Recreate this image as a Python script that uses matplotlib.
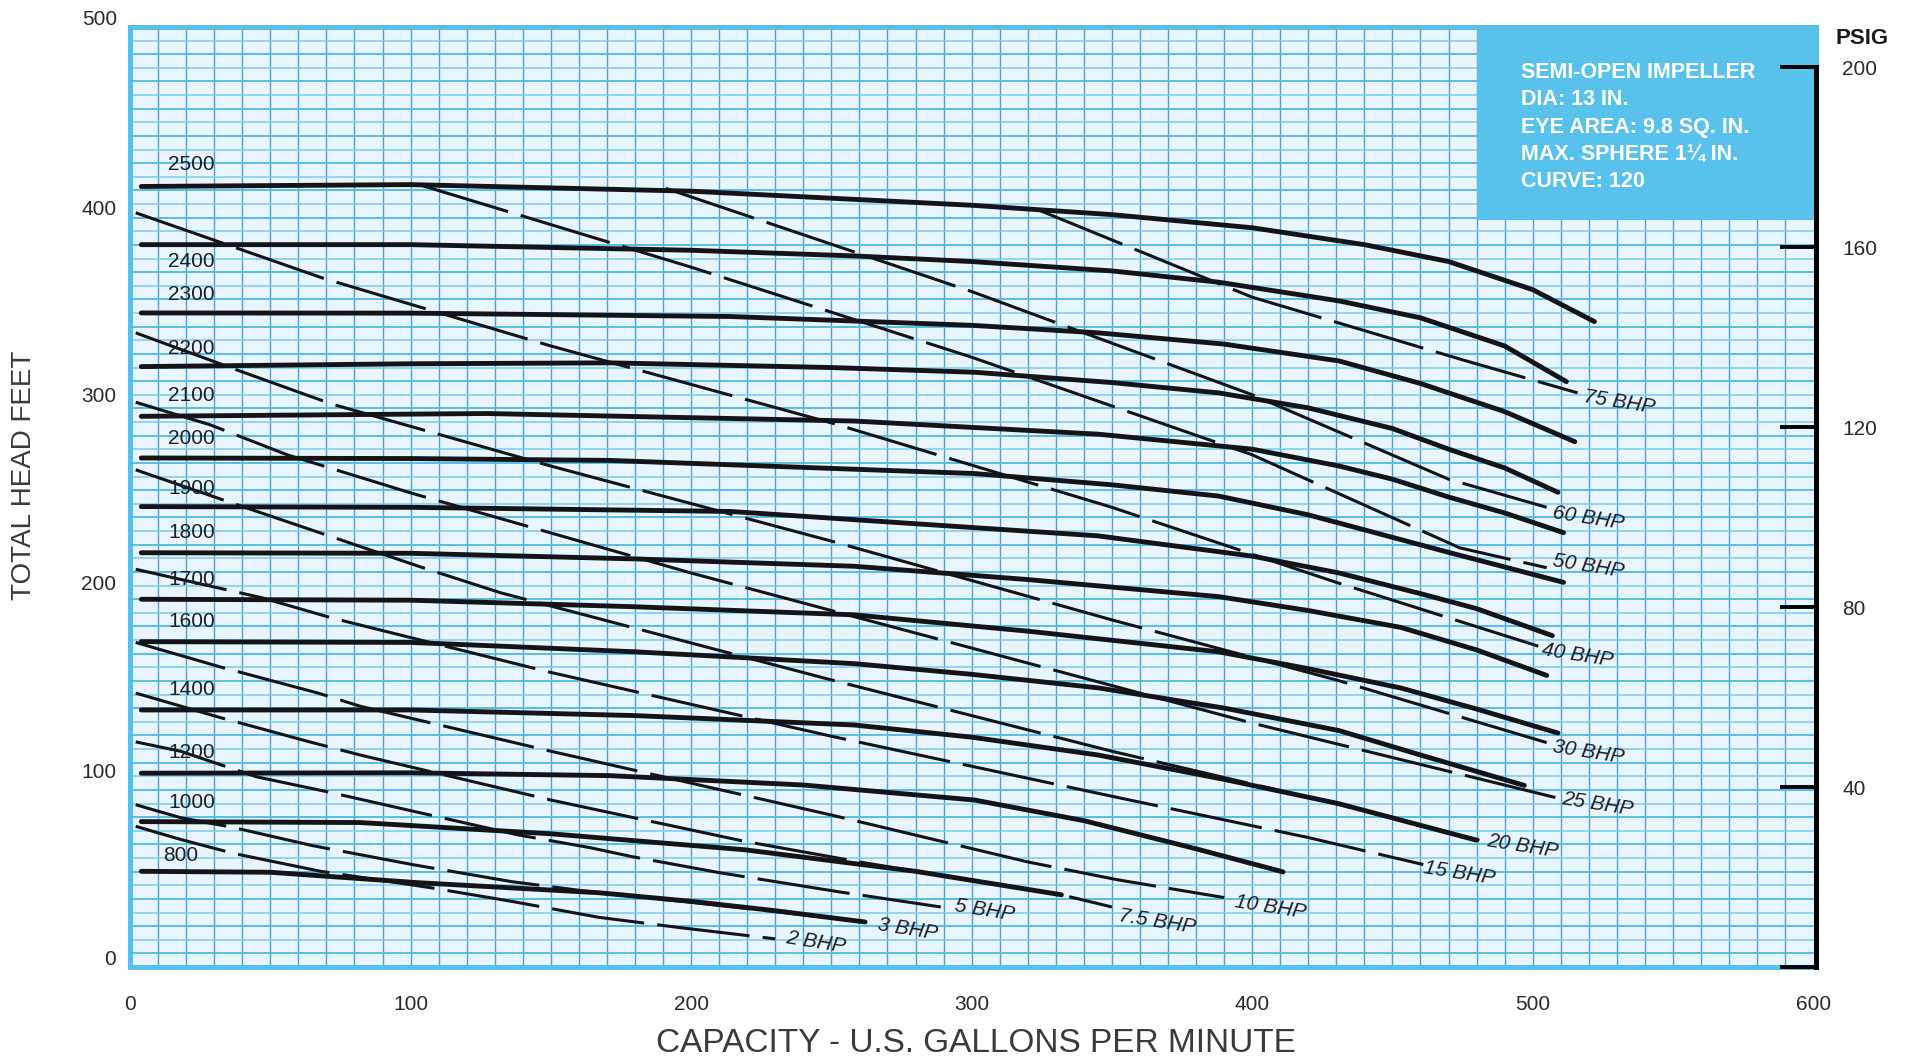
import numpy as np
import matplotlib.pyplot as plt
from matplotlib import font_manager
from matplotlib.patches import Rectangle
import matplotlib.transforms as mtransforms

# head-capacity curves, one per pump speed (rpm)
speeds = [2500, 2400, 2300, 2200, 2100, 2000, 1900, 1800, 1700, 1600, 1400, 1200, 1000, 800]
speed_q = [
    [4, 100, 200, 300, 350, 400, 440, 470, 500, 522],
    [4, 100, 200, 258, 300, 350, 388, 431, 460, 490, 512],
    [4, 100, 214, 300, 345, 390, 431, 460, 490, 515],
    [4, 100, 171, 250, 301, 350, 388, 420, 450, 470, 490, 509],
    [4, 127, 258, 345, 400, 431, 450, 470, 490, 511],
    [4, 100, 171, 301, 350, 388, 420, 450, 470, 511],
    [4, 100, 214, 345, 400, 431, 460, 480, 507],
    [4, 100, 180, 258, 320, 388, 420, 453, 480, 505],
    [4, 100, 180, 258, 320, 388, 420, 453, 480, 509],
    [4, 100, 180, 258, 300, 345, 390, 431, 460, 497],
    [4, 100, 180, 258, 300, 345, 390, 431, 455, 480],
    [4, 100, 171, 240, 301, 340, 380, 411],
    [4, 82, 150, 219, 280, 332],
    [4, 50, 102, 167, 200, 230, 262],
]
speed_h = [
    [411, 412, 408.5, 401, 396, 389, 380, 371, 356, 339],
    [380, 380, 377, 374, 371, 366, 360, 350, 341, 326, 307],
    [343.6, 343.5, 341.7, 337, 333, 327, 318, 306, 291, 275],
    [315, 316.5, 317, 314.5, 312, 306.5, 301, 293, 282, 271, 261, 248],
    [288.5, 290, 286, 279, 271, 262, 255, 245.5, 237, 226.5],
    [266.3, 266, 265, 258, 252, 246, 236, 224, 216, 200],
    [240.4, 240, 237.8, 224.8, 214, 205, 194, 186, 171.6],
    [215.8, 215.5, 212.5, 208.6, 201.5, 192.4, 185, 176, 164, 150.4],
    [191, 190.5, 187, 182.7, 174, 163, 154, 143.7, 132.5, 119.7],
    [168.4, 168, 163, 156.7, 151, 143.8, 133, 121, 108, 91.8],
    [132, 132, 129, 124, 117.5, 108, 95, 82, 72.5, 62.6],
    [98.3, 98.5, 97, 92, 84, 73, 58, 45.7],
    [72.5, 72, 66, 57.5, 46, 33.5],
    [46, 45.5, 40, 34.6, 30, 25, 19],
]
speed_label_q = [13.5] * 13 + [11.8]
speed_label_h = [422.8, 370.8, 353.2, 324.7, 299.4, 276.7, 250.2, 226.8,
                 201.4, 179.4, 143.1, 109.4, 82.7, 54.2]

# brake horsepower lines
bhp = ['2', '3', '5', '7.5', '10', '15', '20', '25', '30', '40', '50', '60', '75']
bhp_q = [
    [2, 18, 37, 68, 107, 136, 167, 196, 230],
    [2, 18, 37, 65, 101, 136, 170, 200, 230, 263],
    [2, 18, 45, 70, 104, 138, 164, 179, 210, 253, 289],
    [2, 32, 64, 82, 150, 219, 260, 280, 332, 350],
    [2, 32, 67, 82, 150, 250, 320, 352, 390],
    [2, 47, 72, 150, 250, 350, 420, 461],
    [2, 35, 68.5, 104, 132, 250, 350, 430, 481],
    [2, 28.5, 56, 100, 200, 300, 400, 509],
    [2, 38.5, 72, 150, 250, 350, 430, 505],
    [2, 69, 150, 250, 350, 430, 502],
    [103, 200, 300, 400, 474, 505],
    [191, 300, 400, 470, 505],
    [323, 400, 475, 516],
]
bhp_h = [
    [70, 63, 55.5, 46, 37.3, 30, 21.5, 16, 10],
    [81.5, 74.6, 69.3, 59.7, 49.5, 40.5, 34, 29.5, 24.5, 19],
    [115, 110, 96.4, 88.5, 77, 65.5, 58.6, 53.8, 45.3, 35, 27],
    [141, 128, 115, 108, 84, 62, 51, 46, 33.5, 27],
    [168, 155, 141, 134, 110, 76, 51, 41.5, 32],
    [207, 191.8, 181, 152, 118, 86, 64, 49.6],
    [260, 243, 226, 208, 194.5, 148, 110, 82, 62.6],
    [296, 284, 268, 247.7, 205, 165, 125, 85],
    [333, 313, 295, 262, 222, 180, 148, 114.6],
    [397, 362, 326, 285, 240, 200, 166],
    [412, 368, 320, 268, 218.4, 207.8],
    [410, 355, 300, 255, 240],
    [399, 352, 318.6, 301],
]
bhp_label_q = [244.6, 277, 304.5, 366, 406.6, 474, 496.5, 523, 520, 516, 520, 520, 531]
bhp_label_h = [8.1, 15.2, 25, 19.1, 27, 45.1, 59.4, 82, 109.4, 161, 208.6, 234, 296]

info_lines = ['SEMI-OPEN IMPELLER', 'DIA: 13 IN.', 'EYE AREA: 9.8 SQ. IN.',
              'MAX. SPHERE 1\u00bc IN.', 'CURVE: 120']

psig_ticks = [0, 40, 80, 120, 160, 200]

names = {f.name for f in font_manager.fontManager.ttflist}
narrow = 'Liberation Sans Narrow' if 'Liberation Sans Narrow' in names else 'Liberation Sans'
plt.rcParams['font.family'] = ['Liberation Sans', 'DejaVu Sans']
plt.rcParams['lines.scale_dashes'] = False

fig = plt.figure(figsize=(19.1, 10.63), dpi=100)
ax = fig.add_axes([0.0681, 0.0903, 0.8827, 0.8843])
ax.set_xlim(0, 601)
ax.set_ylim(-5, 496)
ax.set_facecolor('#e9f5fc')

# graph paper: 10 gpm columns, rows a little under 7.3 ft
ax.vlines(np.arange(10, 600, 10), -5, 496, color='#4f9fd2', lw=1.0, zorder=1)
rows = np.linspace(-5, 496, 70)[1:-1]
ax.hlines(rows[::2], 0, 601, color='#56bde6', lw=1.4, zorder=1)
ax.hlines(rows[1::2], 0, 601, color='#7ccbec', lw=1.1, zorder=1)

for s in ax.spines.values():
    s.set_color('#56bfea')
    s.set_linewidth(3.6)

ax.add_patch(Rectangle((480, 393), 121, 103, facecolor='#58c1ec', edgecolor='none', zorder=2))
for i, line in enumerate(info_lines):
    ax.text(496, 472 - i * 14.65, line, color='white', fontsize=15.5, fontweight='bold',
            family=narrow, va='center', ha='left', zorder=5)

for q, h in zip(speed_q, speed_h):
    ax.plot(q, h, color='#141418', lw=3.5, solid_capstyle='round',
            solid_joinstyle='round', zorder=4)
for sp, lq, lh in zip(speeds, speed_label_q, speed_label_h):
    ax.text(lq, lh, str(sp), fontsize=15, family=narrow, color='#1e1e24',
            ha='left', va='center', zorder=5)

for q, h in zip(bhp_q, bhp_h):
    ax.plot(q, h, color='#141418', lw=2.2, dashes=(67, 9.5), zorder=4)
for b, lq, lh in zip(bhp, bhp_label_q, bhp_label_h):
    ax.text(lq, lh, b + ' BHP', fontsize=15, style='italic', color='#1e1e24',
            ha='center', va='center', rotation=-9, rotation_mode='anchor', zorder=5)

ax.set_xticks(range(0, 601, 100))
ax.set_yticks(range(0, 401, 100))
ax.tick_params(axis='both', length=0, labelsize=15, labelcolor='#2a2a2a')
ax.tick_params(axis='x', pad=20)
ax.tick_params(axis='y', pad=10)
for lab in ax.get_xticklabels() + ax.get_yticklabels():
    lab.set_family(narrow)
ytrans = mtransforms.blended_transform_factory(ax.transAxes, ax.transData)
ax.text(-0.0075, 500, '500', transform=ytrans, ha='right', va='center', fontsize=15,
        family=narrow, color='#2a2a2a', clip_on=False)

# pressure scale on the right
ax2 = ax.twinx()
ax2.set_ylim(0, 209)
ax2.set_yticks(psig_ticks)
ax2.set_yticklabels([''] + [str(t) for t in psig_ticks[1:]])
for name, s in ax2.spines.items():
    s.set_visible(name == 'right')
ax2.spines['right'].set_color('black')
ax2.spines['right'].set_linewidth(3.6)
ax2.spines['right'].set_bounds(0, 200)
ax2.tick_params(axis='y', direction='in', length=26, width=2.8, color='black',
                pad=19, labelsize=15, labelcolor='#2a2a2a')
for lab in ax2.get_yticklabels():
    lab.set_family(narrow)
fig.text(1862 / 1910, 1 - 38 / 1063, 'PSIG', fontsize=16, fontweight='bold',
         family=narrow, color='#1a1a1a', ha='center', va='center')

fig.text(0.511, 0.018, 'CAPACITY - U.S. GALLONS PER MINUTE', fontsize=24,
         color='#3a3a3a', ha='center', va='center')
fig.text(0.0126, 0.553, 'TOTAL HEAD FEET', fontsize=20, rotation=90,
         color='#3a3a3a', ha='center', va='center')

fig.savefig('out.png', dpi=100, facecolor='white')
